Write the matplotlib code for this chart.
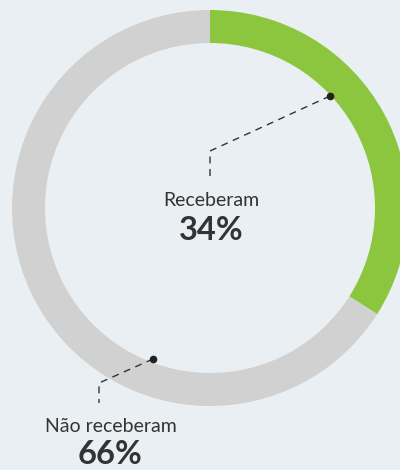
import matplotlib
matplotlib.use("Agg")
import matplotlib.pyplot as plt

labels = ["Receberam", "Não receberam"]
values = [34, 66]
colors = ["#8cc63f", "#d1d1d1"]
bg = "#e9eff2"

W, H = 400, 470
fig = plt.figure(figsize=(4, 4.7), dpi=100, facecolor=bg)
ax = fig.add_axes([0, 0, 1, 1])
ax.set_facecolor(bg)

cx, cy = 210, H - 208
R, w = 198, 33
ax.pie(values, colors=colors, startangle=90, counterclock=False,
       center=(cx, cy), radius=R, frame=True,
       wedgeprops=dict(width=w, linewidth=0))
ax.set_xlim(0, W)
ax.set_ylim(0, H)
ax.set_aspect("equal")
ax.axis("off")

fam = ["Lato", "DejaVu Sans"]
lc = "#333333"
# leader lines
ax.plot([330, 210, 210], [H - 96, H - 151, H - 177], color=lc, lw=1,
        ls=(0, (5, 4)))
ax.plot([330], [H - 96], "o", color="#222222", ms=4.5)
ax.plot([153, 99, 99], [H - 359, H - 383, H - 403], color=lc, lw=1,
        ls=(0, (5, 4)))
ax.plot([153], [H - 359], "o", color="#222222", ms=4.5)

ax.text(211, H - 201, labels[0], ha="center", va="center", fontsize=14,
        family=fam, color="#333333")
ax.text(211, H - 231, f"{values[0]}%", ha="center", va="center", fontsize=23.5,
        family=fam, fontweight="bold", color="#333333")
ax.text(111, H - 427, labels[1], ha="center", va="center", fontsize=14,
        family=fam, color="#333333")
ax.text(110, H - 455, f"{values[1]}%", ha="center", va="center", fontsize=23.5,
        family=fam, fontweight="bold", color="#333333")

fig.savefig("out.png", dpi=100, facecolor=bg)
